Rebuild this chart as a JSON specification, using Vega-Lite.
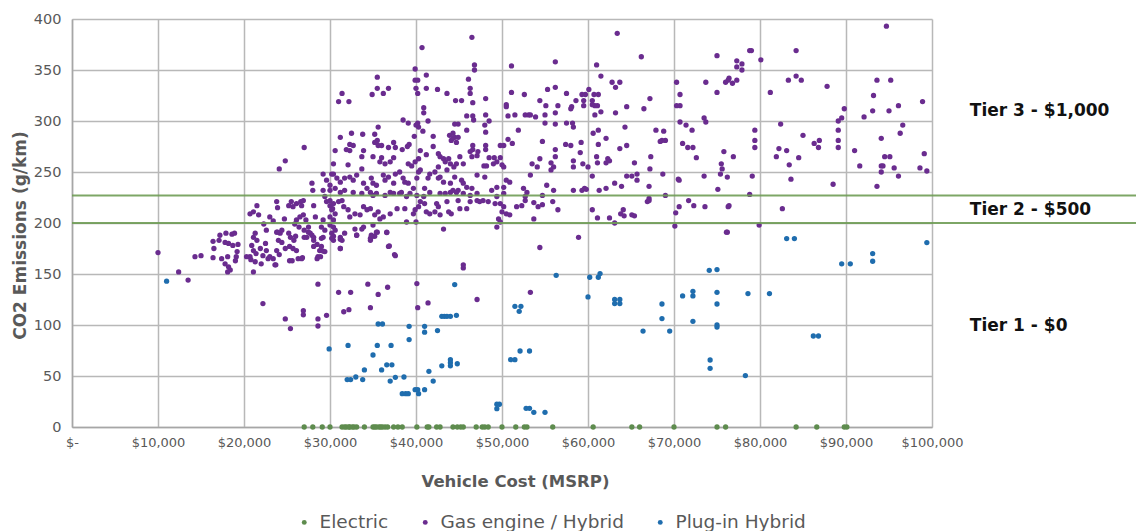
{
"$schema": "https://vega.github.io/schema/vega-lite/v6.json",
"width": 860, "height": 408,
"autosize": "none",
"padding": {"left": 72, "top": 19, "right": 204, "bottom": 104},
"background": "white",
"config": {"view": {"stroke": null}, "font": "DejaVu Sans"},
"datasets": {
"electric": [
{"cost":27.0,"co2":0},{"cost":28.0,"co2":0},{"cost":29.1,"co2":0},{"cost":30.0,"co2":0},{"cost":31.4,"co2":0},{"cost":31.7,"co2":0},{"cost":31.9,"co2":0},{"cost":32.2,"co2":0},{"cost":32.3,"co2":0},{"cost":32.6,"co2":0},{"cost":32.8,"co2":0},{"cost":33.1,"co2":0},{"cost":34.0,"co2":0},{"cost":35.0,"co2":0},{"cost":35.2,"co2":0},{"cost":35.4,"co2":0},{"cost":35.7,"co2":0},{"cost":35.9,"co2":0},{"cost":36.1,"co2":0},{"cost":36.4,"co2":0},{"cost":36.7,"co2":0},{"cost":37.4,"co2":0},{"cost":37.9,"co2":0},{"cost":38.4,"co2":0},{"cost":40.1,"co2":0},{"cost":41.3,"co2":0},{"cost":41.5,"co2":0},{"cost":42.4,"co2":0},{"cost":42.8,"co2":0},{"cost":44.3,"co2":0},{"cost":44.8,"co2":0},{"cost":45.2,"co2":0},{"cost":45.5,"co2":0},{"cost":47.0,"co2":0},{"cost":47.7,"co2":0},{"cost":48.0,"co2":0},{"cost":48.4,"co2":0},{"cost":50.0,"co2":0},{"cost":51.6,"co2":0},{"cost":52.6,"co2":0},{"cost":52.9,"co2":0},{"cost":55.9,"co2":0},{"cost":60.6,"co2":0},{"cost":65.1,"co2":0},{"cost":66.0,"co2":0},{"cost":70.0,"co2":0},{"cost":75.0,"co2":0},{"cost":76.0,"co2":0},{"cost":84.2,"co2":0},{"cost":86.6,"co2":0},{"cost":89.8,"co2":0},{"cost":90.1,"co2":0}
],
"plugin": [
{"cost":11.0,"co2":143},{"cost":29.9,"co2":76.5},{"cost":32.1,"co2":80},{"cost":32.0,"co2":46.5},{"cost":32.4,"co2":46.5},{"cost":33.0,"co2":49},{"cost":33.8,"co2":46.5},{"cost":34.0,"co2":56},{"cost":35.0,"co2":70.6},{"cost":35.5,"co2":80},{"cost":35.6,"co2":101},{"cost":36.1,"co2":101},{"cost":36.0,"co2":56},{"cost":36.6,"co2":61},{"cost":37.2,"co2":61},{"cost":37.0,"co2":45},{"cost":37.6,"co2":48.7},{"cost":37.1,"co2":80},{"cost":38.4,"co2":32.7},{"cost":38.8,"co2":32.7},{"cost":39.1,"co2":32.7},{"cost":38.6,"co2":49},{"cost":39.2,"co2":85.7},{"cost":39.2,"co2":98.7},{"cost":39.9,"co2":36.6},{"cost":40.2,"co2":36.6},{"cost":40.3,"co2":32.7},{"cost":41.0,"co2":98.7},{"cost":41.0,"co2":93},{"cost":41.0,"co2":36.6},{"cost":41.5,"co2":54.6},{"cost":42.0,"co2":45},{"cost":42.5,"co2":94.5},{"cost":43.0,"co2":108.5},{"cost":43.3,"co2":108.5},{"cost":43.6,"co2":108.5},{"cost":44.0,"co2":108.5},{"cost":44.7,"co2":109.5},{"cost":44.5,"co2":139.6},{"cost":43.0,"co2":60},{"cost":44.0,"co2":66},{"cost":44.0,"co2":60},{"cost":44.0,"co2":63},{"cost":44.8,"co2":62},{"cost":49.4,"co2":22.3},{"cost":49.4,"co2":18},{"cost":49.7,"co2":22.3},{"cost":51.0,"co2":66},{"cost":51.5,"co2":66},{"cost":52.1,"co2":74.5},{"cost":53.2,"co2":74.5},{"cost":51.5,"co2":118.3},{"cost":52.2,"co2":118.3},{"cost":52.0,"co2":113.4},{"cost":52.8,"co2":18.3},{"cost":53.2,"co2":18.3},{"cost":53.7,"co2":14.4},{"cost":55.0,"co2":14.4},{"cost":56.3,"co2":148.7},{"cost":60.0,"co2":127.5},{"cost":60.2,"co2":146.8},{"cost":61.2,"co2":146.8},{"cost":61.4,"co2":150.4},{"cost":63.1,"co2":125},{"cost":63.1,"co2":121},{"cost":63.7,"co2":125},{"cost":63.7,"co2":121},{"cost":66.4,"co2":94},{"cost":68.6,"co2":120.6},{"cost":68.6,"co2":106.3},{"cost":69.5,"co2":94},{"cost":71.0,"co2":128.5},{"cost":72.2,"co2":133},{"cost":72.2,"co2":128.5},{"cost":72.2,"co2":103.6},{"cost":74.1,"co2":153.6},{"cost":75.0,"co2":154.3},{"cost":75.0,"co2":132},{"cost":75.0,"co2":120.6},{"cost":75.0,"co2":100},{"cost":75.0,"co2":98},{"cost":74.2,"co2":65.7},{"cost":74.2,"co2":57.5},{"cost":78.3,"co2":50.4},{"cost":78.6,"co2":130.8},{"cost":81.1,"co2":130.8},{"cost":83.1,"co2":184.7},{"cost":84.0,"co2":184.7},{"cost":89.5,"co2":160},{"cost":90.5,"co2":160},{"cost":93.1,"co2":170},{"cost":93.1,"co2":162.5},{"cost":99.4,"co2":180.8},{"cost":86.2,"co2":89.2},{"cost":86.8,"co2":89.2}
],
"gas": [
{"cost":10.0,"co2":171},{"cost":12.4,"co2":152},{"cost":13.5,"co2":144},{"cost":14.3,"co2":167},{"cost":15.0,"co2":168},
{"cost":16.4,"co2":182},{"cost":16.5,"co2":175},{"cost":16.4,"co2":166},{"cost":17.2,"co2":188},{"cost":17.1,"co2":183},{"cost":17.9,"co2":190},{"cost":18.6,"co2":189},{"cost":18.9,"co2":190},{"cost":17.8,"co2":181},{"cost":18.2,"co2":180},{"cost":18.7,"co2":178},{"cost":19.3,"co2":179},{"cost":17.4,"co2":165},{"cost":18.1,"co2":167},{"cost":19.2,"co2":172},{"cost":19.1,"co2":167},{"cost":19.0,"co2":163},{"cost":17.8,"co2":160},{"cost":18.2,"co2":157},{"cost":18.4,"co2":154},{"cost":18.1,"co2":152},
{"cost":20.7,"co2":209},{"cost":21.1,"co2":211},{"cost":21.5,"co2":217},{"cost":21.7,"co2":208},{"cost":21.3,"co2":190},{"cost":21.1,"co2":186},{"cost":21.5,"co2":183},{"cost":20.9,"co2":178},{"cost":21.1,"co2":173},{"cost":21.4,"co2":170},{"cost":20.7,"co2":167},{"cost":20.8,"co2":164},{"cost":21.3,"co2":162},{"cost":21.9,"co2":175},{"cost":22.2,"co2":168},{"cost":22.0,"co2":160},{"cost":21.1,"co2":152},{"cost":22.6,"co2":193},{"cost":22.3,"co2":199},{"cost":23.8,"co2":221},{"cost":23.9,"co2":215},{"cost":23.0,"co2":206},{"cost":23.4,"co2":202},{"cost":23.8,"co2":191},{"cost":24.2,"co2":190},{"cost":24.4,"co2":193},{"cost":24.0,"co2":183},{"cost":24.4,"co2":181},{"cost":23.8,"co2":173},{"cost":24.1,"co2":169},{"cost":23.4,"co2":165},{"cost":23.7,"co2":159},{"cost":22.6,"co2":173},{"cost":22.8,"co2":165},{"cost":23.0,"co2":167},{"cost":24.7,"co2":204},{"cost":25.2,"co2":217},{"cost":25.5,"co2":221},{"cost":25.7,"co2":216},{"cost":26.1,"co2":219},{"cost":26.6,"co2":221},{"cost":26.9,"co2":222},{"cost":26.7,"co2":217},{"cost":25.2,"co2":190},{"cost":25.4,"co2":186},{"cost":25.8,"co2":183},{"cost":25.3,"co2":177},{"cost":25.7,"co2":175},{"cost":26.1,"co2":173},{"cost":25.3,"co2":163},{"cost":26.3,"co2":165},{"cost":26.8,"co2":166},{"cost":26.1,"co2":203},{"cost":26.5,"co2":206},{"cost":26.9,"co2":208},{"cost":27.2,"co2":203},{"cost":25.9,"co2":199},{"cost":26.4,"co2":196},{"cost":27.0,"co2":193},{"cost":27.5,"co2":196},{"cost":27.3,"co2":186},{"cost":27.7,"co2":190},{"cost":28.1,"co2":183},{"cost":28.1,"co2":177},{"cost":28.5,"co2":179},{"cost":28.8,"co2":173},{"cost":27.9,"co2":188},{"cost":29.0,"co2":185},{"cost":29.0,"co2":196},{"cost":29.4,"co2":193},{"cost":29.2,"co2":203},{"cost":28.1,"co2":217},{"cost":28.3,"co2":206},{"cost":27.9,"co2":239},{"cost":28.0,"co2":232},{"cost":29.2,"co2":232},{"cost":29.4,"co2":226},{"cost":29.6,"co2":221},{"cost":30.0,"co2":217},{"cost":30.3,"co2":214},{"cost":29.6,"co2":242},{"cost":30.0,"co2":237},{"cost":30.2,"co2":248},{"cost":29.2,"co2":248},{"cost":30.0,"co2":206},{"cost":30.4,"co2":203},{"cost":30.2,"co2":190},{"cost":30.4,"co2":183},{"cost":29.4,"co2":172},{"cost":29.0,"co2":177},
{"cost":20.3,"co2":167},{"cost":22.5,"co2":180},{"cost":23.6,"co2":159},{"cost":23.9,"co2":191},{"cost":24.8,"co2":175},{"cost":25.6,"co2":163},{"cost":26.0,"co2":187},{"cost":26.7,"co2":165},{"cost":27.0,"co2":186},{"cost":27.5,"co2":191},{"cost":28.1,"co2":186},{"cost":28.6,"co2":167},{"cost":28.9,"co2":167},{"cost":28.5,"co2":165},{"cost":29.2,"co2":186},{"cost":29.2,"co2":172.5},{"cost":30.4,"co2":187},{"cost":30.2,"co2":185},{"cost":31.2,"co2":184},{"cost":31.2,"co2":175},{"cost":31.7,"co2":190},{"cost":33.1,"co2":188},{"cost":34.7,"co2":183},{"cost":35.2,"co2":187},{"cost":34.8,"co2":186},
{"cost":22.2,"co2":121},{"cost":24.8,"co2":106},{"cost":25.4,"co2":96.5},{"cost":26.9,"co2":114},{"cost":26.9,"co2":110},{"cost":28.6,"co2":106},{"cost":28.6,"co2":99},{"cost":29.6,"co2":109.5},{"cost":28.6,"co2":140},{"cost":31.0,"co2":132},{"cost":32.4,"co2":132},{"cost":31.6,"co2":113},{"cost":32.2,"co2":115},{"cost":34.4,"co2":140},{"cost":34.7,"co2":117},{"cost":35.6,"co2":130},{"cost":36.7,"co2":137},{"cost":36.9,"co2":177.5},{"cost":37.5,"co2":169},{"cost":35.5,"co2":191},{"cost":36.6,"co2":190.6},{"cost":40.1,"co2":140.6},{"cost":40.2,"co2":117},{"cost":41.4,"co2":121.6},{"cost":45.5,"co2":159},{"cost":45.5,"co2":156},{"cost":47.1,"co2":125},{"cost":53.3,"co2":132},{"cost":54.4,"co2":176},{"cost":58.9,"co2":186},{"cost":76.1,"co2":191},
{"cost":27.0,"co2":274},{"cost":24.8,"co2":261},{"cost":24.1,"co2":253},
{"cost":46.5,"co2":382},{"cost":40.7,"co2":372},{"cost":46.8,"co2":355},{"cost":46.8,"co2":350},{"cost":51.1,"co2":354},{"cost":39.9,"co2":351},{"cost":41.2,"co2":345},{"cost":35.5,"co2":343},{"cost":46.1,"co2":341},{"cost":39.9,"co2":340},{"cost":40.2,"co2":340},{"cost":31.4,"co2":327},{"cost":31.0,"co2":319},{"cost":32.2,"co2":319},{"cost":34.9,"co2":326},{"cost":35.5,"co2":332},{"cost":36.2,"co2":327},{"cost":36.8,"co2":332},{"cost":40.0,"co2":332},{"cost":40.2,"co2":327},{"cost":41.2,"co2":332},{"cost":42.5,"co2":331},{"cost":43.6,"co2":327},{"cost":44.6,"co2":320},{"cost":45.3,"co2":320},{"cost":46.3,"co2":332},{"cost":46.3,"co2":327},{"cost":46.6,"co2":318},{"cost":48.1,"co2":322},{"cost":51.1,"co2":328},{"cost":52.6,"co2":326},{"cost":50.5,"co2":316},{"cost":50.5,"co2":314},{"cost":40.9,"co2":313},{"cost":40.9,"co2":308},{"cost":38.5,"co2":301},{"cost":39.1,"co2":298},{"cost":40.2,"co2":298},{"cost":40.3,"co2":294},{"cost":40.0,"co2":296},{"cost":41.4,"co2":300},{"cost":35.6,"co2":294},{"cost":45.9,"co2":305},{"cost":46.6,"co2":305},{"cost":46.7,"co2":301},{"cost":48.1,"co2":306},{"cost":48.5,"co2":300},{"cost":48.0,"co2":296},{"cost":44.5,"co2":297},{"cost":44.9,"co2":297},{"cost":50.7,"co2":305},{"cost":51.5,"co2":306},{"cost":52.7,"co2":306},{"cost":53.1,"co2":306},{"cost":51.9,"co2":291},{"cost":31.2,"co2":284},{"cost":32.5,"co2":288},{"cost":33.8,"co2":287},{"cost":35.2,"co2":287},{"cost":35.5,"co2":281},{"cost":35.6,"co2":276},{"cost":36.0,"co2":276},{"cost":36.8,"co2":274},{"cost":37.4,"co2":279},{"cost":37.6,"co2":274},{"cost":32.3,"co2":277},{"cost":32.7,"co2":276},{"cost":31.9,"co2":272},{"cost":32.3,"co2":271},{"cost":30.6,"co2":271},{"cost":33.9,"co2":271},{"cost":33.7,"co2":265},{"cost":35.0,"co2":265},{"cost":36.0,"co2":264},{"cost":37.4,"co2":264},{"cost":38.4,"co2":272},{"cost":39.0,"co2":275},{"cost":39.2,"co2":277},{"cost":39.8,"co2":285},{"cost":40.8,"co2":290},{"cost":42.0,"co2":285},{"cost":40.5,"co2":271},{"cost":41.2,"co2":267},{"cost":42.0,"co2":275},{"cost":42.6,"co2":268},{"cost":42.8,"co2":265},{"cost":43.2,"co2":263},{"cost":43.8,"co2":263},{"cost":43.9,"co2":286},{"cost":44.3,"co2":288},{"cost":44.5,"co2":284},{"cost":44.1,"co2":281},{"cost":44.7,"co2":279},{"cost":44.9,"co2":284},{"cost":44.3,"co2":283},{"cost":45.1,"co2":265},{"cost":46.6,"co2":276},{"cost":46.6,"co2":272},{"cost":47.1,"co2":266},{"cost":48.1,"co2":276},{"cost":48.1,"co2":272},{"cost":48.1,"co2":289},{"cost":48.5,"co2":264},{"cost":49.1,"co2":264},{"cost":49.8,"co2":264},{"cost":49.8,"co2":276},{"cost":50.2,"co2":276},{"cost":50.7,"co2":282},{"cost":51.2,"co2":278},{"cost":46.3,"co2":270},{"cost":46.5,"co2":265},{"cost":47.2,"co2":270},{"cost":40.3,"co2":263},{"cost":45.9,"co2":291},{"cost":35.2,"co2":279},
{"cost":30.4,"co2":258},{"cost":32.1,"co2":257},{"cost":35.8,"co2":260},{"cost":36.4,"co2":258},{"cost":37.0,"co2":260},{"cost":39.1,"co2":258},{"cost":39.5,"co2":256},{"cost":39.9,"co2":260},{"cost":42.6,"co2":255},{"cost":43.4,"co2":260},{"cost":44.0,"co2":258},{"cost":44.4,"co2":255},{"cost":44.7,"co2":258},{"cost":45.5,"co2":258},{"cost":47.9,"co2":256},{"cost":48.2,"co2":256},{"cost":49.0,"co2":258},{"cost":49.4,"co2":260},{"cost":50.0,"co2":257},{"cost":50.2,"co2":255},
{"cost":30.4,"co2":248},{"cost":30.8,"co2":244},{"cost":31.2,"co2":240},{"cost":31.7,"co2":244},{"cost":32.3,"co2":245},{"cost":32.7,"co2":242},{"cost":33.1,"co2":247},{"cost":33.7,"co2":253},{"cost":33.9,"co2":239},{"cost":34.3,"co2":234},{"cost":34.8,"co2":244},{"cost":35.0,"co2":239},{"cost":35.4,"co2":237},{"cost":36.2,"co2":247},{"cost":36.4,"co2":242},{"cost":36.8,"co2":245},{"cost":37.4,"co2":239},{"cost":37.6,"co2":248},{"cost":38.1,"co2":250},{"cost":38.5,"co2":244},{"cost":38.7,"co2":240},{"cost":39.1,"co2":239},{"cost":39.7,"co2":234},{"cost":40.1,"co2":244},{"cost":40.3,"co2":250},{"cost":40.5,"co2":252},{"cost":41.0,"co2":234},{"cost":41.4,"co2":244},{"cost":41.6,"co2":248},{"cost":42.2,"co2":250},{"cost":42.6,"co2":244},{"cost":42.8,"co2":245},{"cost":43.2,"co2":240},{"cost":43.6,"co2":252},{"cost":44.0,"co2":239},{"cost":44.5,"co2":245},{"cost":44.9,"co2":232},{"cost":45.3,"co2":242},{"cost":45.5,"co2":239},{"cost":45.9,"co2":235},{"cost":46.5,"co2":234},{"cost":47.1,"co2":247},{"cost":48.0,"co2":245},{"cost":48.8,"co2":232},{"cost":49.4,"co2":235},{"cost":50.2,"co2":235},{"cost":50.5,"co2":242},{"cost":50.9,"co2":240},
{"cost":30.0,"co2":232},{"cost":30.6,"co2":234},{"cost":31.2,"co2":230},{"cost":31.7,"co2":232},{"cost":32.7,"co2":230},{"cost":33.7,"co2":229},{"cost":34.7,"co2":230},{"cost":35.0,"co2":227},{"cost":35.4,"co2":229},{"cost":36.4,"co2":227},{"cost":37.0,"co2":230},{"cost":37.4,"co2":229},{"cost":38.1,"co2":229},{"cost":38.3,"co2":230},{"cost":38.9,"co2":226},{"cost":39.3,"co2":229},{"cost":40.1,"co2":227},{"cost":40.9,"co2":226},{"cost":41.6,"co2":230},{"cost":42.8,"co2":229},{"cost":43.4,"co2":229},{"cost":44.0,"co2":230},{"cost":44.3,"co2":232},{"cost":44.7,"co2":230},{"cost":45.5,"co2":229},{"cost":46.3,"co2":227},{"cost":47.1,"co2":229},{"cost":49.4,"co2":226},{"cost":50.2,"co2":229},{"cost":52.5,"co2":234},{"cost":52.9,"co2":230},{"cost":52.7,"co2":226},
{"cost":30.0,"co2":222},{"cost":30.4,"co2":219},{"cost":31.0,"co2":221},{"cost":31.4,"co2":222},{"cost":30.2,"co2":213},{"cost":30.6,"co2":209},{"cost":31.6,"co2":216},{"cost":32.1,"co2":213},{"cost":32.3,"co2":206},{"cost":32.9,"co2":209},{"cost":33.5,"co2":208},{"cost":33.9,"co2":216},{"cost":34.3,"co2":213},{"cost":34.7,"co2":214},{"cost":35.2,"co2":208},{"cost":35.6,"co2":211},{"cost":35.8,"co2":204},{"cost":36.2,"co2":206},{"cost":37.0,"co2":209},{"cost":37.8,"co2":214},{"cost":38.7,"co2":214},{"cost":39.7,"co2":209},{"cost":39.9,"co2":213},{"cost":40.3,"co2":216},{"cost":40.5,"co2":221},{"cost":41.0,"co2":219},{"cost":41.2,"co2":211},{"cost":41.6,"co2":209},{"cost":42.2,"co2":211},{"cost":42.4,"co2":219},{"cost":42.6,"co2":216},{"cost":42.8,"co2":208},{"cost":43.6,"co2":221},{"cost":43.8,"co2":211},{"cost":44.1,"co2":209},{"cost":44.9,"co2":222},{"cost":45.1,"co2":214},{"cost":45.9,"co2":214},{"cost":46.3,"co2":221},{"cost":47.1,"co2":222},{"cost":47.4,"co2":221},{"cost":47.8,"co2":222},{"cost":48.4,"co2":221},{"cost":49.2,"co2":219},{"cost":49.8,"co2":219},{"cost":50.0,"co2":211},{"cost":50.2,"co2":216},{"cost":50.5,"co2":209},{"cost":49.6,"co2":204},{"cost":50.9,"co2":208},{"cost":51.7,"co2":216},{"cost":52.3,"co2":217},{"cost":52.7,"co2":222},
{"cost":30.0,"co2":198},{"cost":30.4,"co2":196},{"cost":30.6,"co2":193},{"cost":31.2,"co2":186},{"cost":31.4,"co2":183},{"cost":31.2,"co2":175},{"cost":32.9,"co2":194},{"cost":33.1,"co2":188},{"cost":33.7,"co2":194},{"cost":33.9,"co2":196},{"cost":34.7,"co2":185},{"cost":34.8,"co2":188},{"cost":35.0,"co2":198},{"cost":35.4,"co2":191},{"cost":36.6,"co2":191},{"cost":36.8,"co2":177},{"cost":37.6,"co2":168},{"cost":38.9,"co2":201},{"cost":40.0,"co2":201},{"cost":43.2,"co2":194},{"cost":49.4,"co2":196},{"cost":49.8,"co2":201},
{"cost":63.4,"co2":386},{"cost":56.2,"co2":358},{"cost":61.0,"co2":355},{"cost":66.2,"co2":363},{"cost":75.0,"co2":364},{"cost":61.5,"co2":344},{"cost":62.8,"co2":338},{"cost":63.7,"co2":338},{"cost":63.2,"co2":333},{"cost":70.3,"co2":338},{"cost":73.7,"co2":338},{"cost":76.0,"co2":338},{"cost":76.4,"co2":342},{"cost":75.0,"co2":328},{"cost":55.3,"co2":331},{"cost":56.2,"co2":333},{"cost":57.5,"co2":327},{"cost":59.3,"co2":326},{"cost":59.7,"co2":326},{"cost":60.1,"co2":331},{"cost":60.7,"co2":326},{"cost":61.2,"co2":326},{"cost":59.5,"co2":320},{"cost":60.5,"co2":320},{"cost":59.5,"co2":315},{"cost":60.5,"co2":316},{"cost":60.8,"co2":315},{"cost":61.1,"co2":315},{"cost":58.6,"co2":320},{"cost":58.1,"co2":314},{"cost":58.0,"co2":312},{"cost":54.4,"co2":320},{"cost":55.1,"co2":315},{"cost":56.2,"co2":308},{"cost":56.5,"co2":315},{"cost":53.9,"co2":304},{"cost":53.3,"co2":306},{"cost":55.0,"co2":306},{"cost":61.5,"co2":309},{"cost":60.8,"co2":306},{"cost":63.2,"co2":308},{"cost":64.5,"co2":314},{"cost":66.5,"co2":312},{"cost":67.2,"co2":322},{"cost":70.3,"co2":315},{"cost":70.7,"co2":315},{"cost":70.7,"co2":326},{"cost":55.0,"co2":298},{"cost":56.2,"co2":297},{"cost":57.5,"co2":298},{"cost":58.2,"co2":298},{"cost":58.3,"co2":294},{"cost":60.6,"co2":288},{"cost":61.2,"co2":291},{"cost":64.3,"co2":294},{"cost":62.1,"co2":283},{"cost":61.2,"co2":277},{"cost":54.7,"co2":280},{"cost":57.4,"co2":277},{"cost":58.0,"co2":276},{"cost":59.2,"co2":279},{"cost":56.2,"co2":272},{"cost":56.2,"co2":265},{"cost":59.1,"co2":269},{"cost":63.7,"co2":273},{"cost":64.5,"co2":276},{"cost":67.9,"co2":291},{"cost":68.8,"co2":290},{"cost":68.6,"co2":281},{"cost":69.0,"co2":281},{"cost":68.4,"co2":280},{"cost":70.7,"co2":299},{"cost":71.4,"co2":296},{"cost":72.1,"co2":291},{"cost":73.5,"co2":303},{"cost":73.7,"co2":299},{"cost":71.0,"co2":278},{"cost":71.6,"co2":274},{"cost":72.2,"co2":274},{"cost":72.6,"co2":264},{"cost":75.8,"co2":270},{"cost":61.0,"co2":265},{"cost":61.1,"co2":259},{"cost":62.3,"co2":263},{"cost":62.5,"co2":261},{"cost":62.1,"co2":259},{"cost":67.3,"co2":265},{"cost":65.4,"co2":259},{"cost":58.3,"co2":261},{"cost":58.3,"co2":255},{"cost":59.4,"co2":258},{"cost":60.0,"co2":255},{"cost":54.4,"co2":263},{"cost":54.1,"co2":255},{"cost":53.5,"co2":258},{"cost":55.7,"co2":259},{"cost":56.0,"co2":255},{"cost":55.7,"co2":252},{"cost":53.3,"co2":247},{"cost":60.5,"co2":246},{"cost":64.5,"co2":246},{"cost":65.1,"co2":246},{"cost":65.7,"co2":248},{"cost":67.2,"co2":253},{"cost":68.7,"co2":248},{"cost":70.5,"co2":243},{"cost":73.5,"co2":246},{"cost":75.4,"co2":248},{"cost":75.6,"co2":253},{"cost":75.5,"co2":258},{"cost":76.2,"co2":245},
{"cost":55.2,"co2":237},{"cost":56.0,"co2":232},{"cost":58.3,"co2":232},{"cost":59.3,"co2":232},{"cost":59.6,"co2":234},{"cost":59.8,"co2":233},{"cost":61.3,"co2":232},{"cost":62.1,"co2":234},{"cost":63.1,"co2":239},{"cost":63.9,"co2":236},{"cost":65.7,"co2":242},{"cost":67.1,"co2":236},{"cost":70.6,"co2":242},{"cost":75.1,"co2":233},{"cost":54.7,"co2":227},{"cost":53.7,"co2":220},{"cost":54.2,"co2":216},{"cost":54.7,"co2":218},{"cost":55.9,"co2":221},{"cost":56.5,"co2":213},{"cost":53.7,"co2":204},{"cost":60.5,"co2":213},{"cost":61.1,"co2":205},{"cost":62.5,"co2":205},{"cost":63.8,"co2":209},{"cost":64.2,"co2":207},{"cost":64.1,"co2":213},{"cost":65.1,"co2":208},{"cost":65.4,"co2":207},{"cost":66.9,"co2":221},{"cost":67.1,"co2":222},{"cost":67.1,"co2":224},{"cost":69.0,"co2":227},{"cost":71.7,"co2":222},{"cost":72.3,"co2":217},{"cost":73.6,"co2":216},{"cost":70.6,"co2":216},{"cost":70.2,"co2":210},{"cost":70.1,"co2":197},{"cost":76.4,"co2":217},{"cost":76.2,"co2":191},{"cost":63.1,"co2":200},
{"cost":77.3,"co2":359},{"cost":77.9,"co2":356},{"cost":77.3,"co2":353},{"cost":77.9,"co2":350},{"cost":78.8,"co2":369},{"cost":76.3,"co2":340},{"cost":77.3,"co2":340},{"cost":76.8,"co2":337},{"cost":76.9,"co2":265},{"cost":76.3,"co2":216},
{"cost":94.7,"co2":393},{"cost":79.0,"co2":369},{"cost":84.2,"co2":369},{"cost":80.1,"co2":360},{"cost":83.3,"co2":340},{"cost":84.2,"co2":344},{"cost":84.8,"co2":340},{"cost":81.2,"co2":328},{"cost":87.8,"co2":334},{"cost":93.6,"co2":340},{"cost":95.2,"co2":340},{"cost":93.2,"co2":325},{"cost":93.1,"co2":310},{"cost":95.0,"co2":310},{"cost":96.1,"co2":315},{"cost":98.9,"co2":319},{"cost":92.1,"co2":304},{"cost":89.8,"co2":312},{"cost":89.5,"co2":303},{"cost":89.1,"co2":300},{"cost":89.1,"co2":291},{"cost":89.1,"co2":281},{"cost":89.1,"co2":274},{"cost":79.4,"co2":291},{"cost":79.4,"co2":281},{"cost":79.4,"co2":274},{"cost":82.4,"co2":297},{"cost":85.0,"co2":286},{"cost":86.3,"co2":278},{"cost":86.9,"co2":281},{"cost":86.8,"co2":274},{"cost":82.2,"co2":273},{"cost":83.1,"co2":271},{"cost":81.9,"co2":265},{"cost":84.5,"co2":264},{"cost":83.4,"co2":257},{"cost":91.0,"co2":271},{"cost":91.6,"co2":256},{"cost":94.1,"co2":283},{"cost":96.6,"co2":296},{"cost":96.3,"co2":288},{"cost":94.5,"co2":265},{"cost":95.1,"co2":265},{"cost":94.1,"co2":256},{"cost":94.3,"co2":256},{"cost":94.1,"co2":250},{"cost":95.6,"co2":254},{"cost":96.1,"co2":246},{"cost":98.6,"co2":254},{"cost":99.4,"co2":251},{"cost":99.1,"co2":268},{"cost":93.6,"co2":236},{"cost":79.1,"co2":246},{"cost":83.6,"co2":243},{"cost":88.5,"co2":238},{"cost":82.6,"co2":214},{"cost":79.9,"co2":198},{"cost":78.8,"co2":228}
],
"tierLines": [{"co2":200},{"co2":227}],
"tierLabels": [
{"label":"Tier 3 - $1,000","cost":104.4,"co2":310},
{"label":"Tier 2 - $500","cost":104.4,"co2":213},
{"label":"Tier 1 - $0","cost":104.4,"co2":99}
]
},
"layer": [
{
"data": {"name": "gas"},
"mark": {"type": "circle", "size": 28, "opacity": 1},
"encoding": {
"x": {"field": "cost", "type": "quantitative",
"scale": {"domain": [0, 100], "nice": false},
"axis": {"values": [0,10,20,30,40,50,60,70,80,90,100],
"labelExpr": "datum.value == 0 ? '$-' : '$' + format(datum.value * 1000, ',')",
"title": "Vehicle Cost (MSRP)", "grid": true, "gridColor": "#b8b8b8", "gridWidth": 1.5,
"domainColor": "#a6a6a6", "domainWidth": 1.5, "ticks": false, "labelFlush": false,
"labelPadding": 9, "labelFont": "DejaVu Sans", "labelFontSize": 13, "labelColor": "#595959",
"titleFont": "DejaVu Sans", "titleFontSize": 16.5, "titleFontWeight": "bold", "titleColor": "#595959",
"titlePadding": 24, "titleX": 443}},
"y": {"field": "co2", "type": "quantitative",
"scale": {"domain": [0, 400], "nice": false},
"axis": {"values": [0,50,100,150,200,250,300,350,400],
"title": "CO2 Emissions (g/km)", "grid": true, "gridColor": "#b8b8b8", "gridWidth": 1.5,
"domainColor": "#a6a6a6", "domainWidth": 1.5, "ticks": false,
"labelPadding": 11, "labelFont": "DejaVu Sans", "labelFontSize": 14.5, "labelColor": "#595959",
"titleFont": "DejaVu Sans", "titleFontSize": 17, "titleFontWeight": "bold", "titleColor": "#595959",
"titleX": -52, "titleY": 216, "titleAngle": -90, "titleAlign": "center", "titleBaseline": "middle"}},
"color": {"datum": "Gas engine / Hybrid", "type": "nominal",
"scale": {"domain": ["Electric", "Gas engine / Hybrid", "Plug-in Hybrid"], "range": ["#5e8c4e", "#6a2c8f", "#1f6dae"]},
"legend": {"orient": "none", "legendX": 223, "legendY": 494, "direction": "horizontal", "title": null,
"symbolType": "circle", "symbolSize": 24, "symbolStrokeWidth": 0, "labelFont": "DejaVu Sans", "labelFontSize": 18.5,
"labelColor": "#595959", "columnPadding": 27, "labelOffset": 6, "labelLimit": 0}}
}
},
{
"data": {"name": "plugin"},
"mark": {"type": "circle", "size": 28, "opacity": 1},
"encoding": {
"x": {"field": "cost", "type": "quantitative"},
"y": {"field": "co2", "type": "quantitative"},
"color": {"datum": "Plug-in Hybrid", "type": "nominal"}
}
},
{
"data": {"name": "electric"},
"mark": {"type": "circle", "size": 28, "opacity": 1},
"encoding": {
"x": {"field": "cost", "type": "quantitative"},
"y": {"field": "co2", "type": "quantitative"},
"color": {"datum": "Electric", "type": "nominal"}
}
},
{
"data": {"name": "tierLines"},
"mark": {"type": "rule", "color": "#6f9c55", "strokeWidth": 2, "opacity": 0.9},
"encoding": {
"y": {"field": "co2", "type": "quantitative"},
"x": {"datum": 0, "type": "quantitative"},
"x2": {"datum": 124}
}
},
{
"data": {"name": "tierLabels"},
"mark": {"type": "text", "align": "left", "baseline": "middle", "font": "DejaVu Sans", "fontWeight": "bold", "fontSize": 17, "color": "#111111"},
"encoding": {
"x": {"field": "cost", "type": "quantitative"},
"y": {"field": "co2", "type": "quantitative"},
"text": {"field": "label"}
}
}
]
}
